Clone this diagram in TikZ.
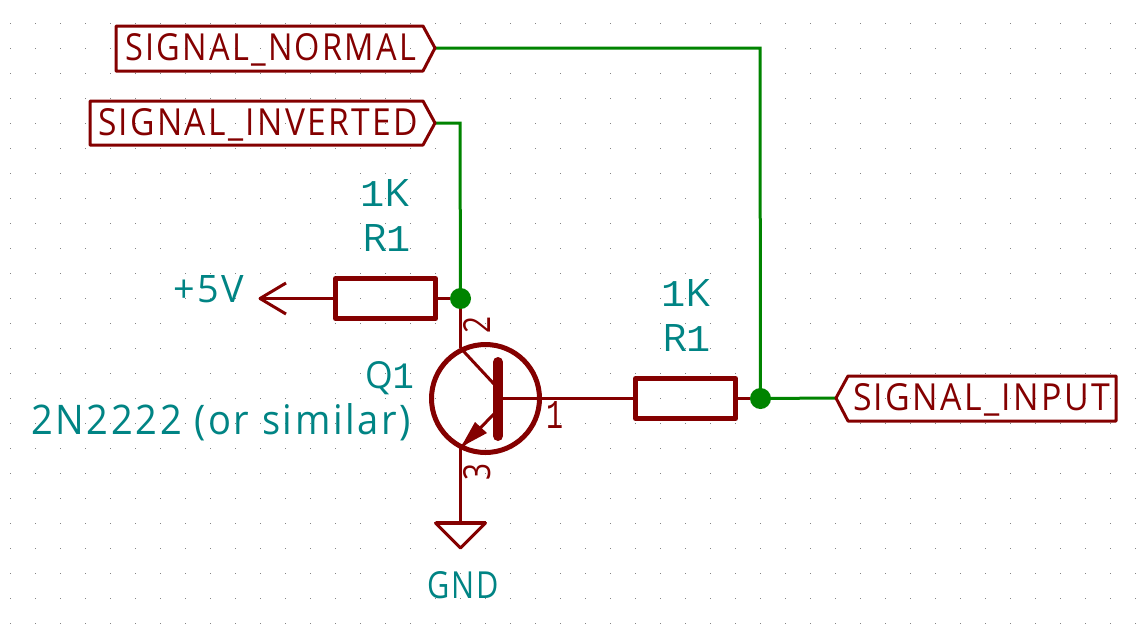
\documentclass[tikz,border=0pt]{standalone}
\usepackage{fontspec}
\usepackage{graphicx}
\setmainfont{Open Sans}[LetterSpace=7]
\newfontfamily\onefont{Liberation Mono}
\newcommand{\one}{{\onefont 1}}
\definecolor{pinred}{RGB}{132,0,0}
\definecolor{wiregreen}{RGB}{0,132,0}
\definecolor{fieldteal}{RGB}{0,132,132}
\definecolor{griddot}{RGB}{132,132,132}
\newcommand{\fitbox}[3]{\resizebox{#1pt}{#2pt}{#3}}
\tikzset{
  x=1pt,y=-1pt,
  wire/.style={draw=wiregreen,line width=3pt,line join=miter},
  pin/.style={draw=pinred,line width=3pt},
  outline/.style={draw=pinred,line width=3pt,line join=round},
  body/.style={draw=pinred,line width=5pt,line join=round,fill=none},
  resistor/.style={draw=pinred,line width=5pt,rectangle,minimum width=100pt,minimum height=40pt,inner sep=0pt,line join=round},
  junction/.style={circle,fill=wiregreen,inner sep=0pt,minimum size=21pt},
  labeltext/.style={anchor=base west,inner sep=0pt,outer sep=0pt,text=pinred},
  fieldtext/.style={anchor=base west,inner sep=0pt,outer sep=0pt,text=fieldteal},
}
\begin{document}
\begin{tikzpicture}
\useasboundingbox (0,0) rectangle (1136,625);
\fill[white] (0,0) rectangle (1136,625);
% grid
\foreach \i in {0,...,45}{\foreach \j in {0,...,24}{
  \fill[griddot] ({10+25*\i},{23+25*\j}) rectangle ++(1,1);}}
% fixed points
\coordinate (normalTip) at (435,48);
\coordinate (invertedTip) at (435,123);
\coordinate (inputTip) at (836,398);
\coordinate (normalCorner) at (760,48);
\coordinate (invertedCorner) at (460,123);
\node[resistor] (R1) at (385.5,298.5) {};
\node[resistor] (R2) at (685.5,398.5) {};
\node[junction] (J1) at (460.5,298.5) {};
\node[junction] (J2) at (760.5,398.5) {};
\coordinate (supplyTip) at (260,298.5);
\coordinate (collector) at (460.5,348);
\coordinate (emitter) at (460.5,448);
\coordinate (gndTop) at (460.5,523);
\coordinate (barBase) at (498,398.5);
% wires
\draw[wire] (normalTip) -- (normalCorner) -- (J2.center);
\draw[wire] (invertedTip) -- (invertedCorner) -- (J1.center);
\draw[wire] (J2.center) -- (inputTip);
% pins
\draw[pin] (R1.west) -- (supplyTip);
\draw[pin] (R1.east) -- (J1.west);
\draw[pin] (J1.south) -- (collector);
\draw[pin] (barBase) -- (R2.west);
\draw[pin] (R2.east) -- (J2.west);
\draw[pin] (emitter) -- (gndTop);
% power arrow
\draw[outline] (286,283) -- (supplyTip) -- (286,314);
% ground
\draw[outline] (gndTop) ++(-25,0) -- ++(50,0) -- (460.5,548) -- cycle;
\draw[pinred,line width=4.5pt] (435.5,523) -- (485.5,523);
% transistor
\draw[body] (485.5,398.5) circle[radius=54];
\draw[pinred,line width=10pt,line cap=round] (498,362) -- (498,436);
\draw[pin] (collector) -- (494,384);
\draw[pin] (494,414) -- (emitter);
\fill[pinred] (461,447) -- (475,422) -- (487,433) -- cycle;
% global labels
\draw[outline] (normalTip) -- (423,71) -- (116,71) -- (116,26) -- (423,26) -- cycle;
\draw[outline] (invertedTip) -- (423,145) -- (90,145) -- (90,101) -- (423,101) -- cycle;
\draw[outline] (inputTip) -- (848,421) -- (1116,421) -- (1116,376) -- (848,376) -- cycle;
\node[labeltext] (tNormal) at (125,60) {\fitbox{291}{27}{SIGNAL\_NORMAL}};
\node[labeltext] (tInverted) at (98,135) {\fitbox{320}{27}{SIGNAL\_INVERTED}};
\node[labeltext] (tInput) at (853,410) {\fitbox{257}{27}{SIGNAL\_INPUT}};
% field text
\node[fieldtext] (vR1) at (360,206) {\fitbox{49}{27}{\one K}};
\node[fieldtext] (nR1) at (362,251) {\fitbox{49}{27}{R\one}};
\node[fieldtext] (vR2) at (661,306) {\fitbox{49}{27}{\one K}};
\node[fieldtext] (nR2) at (662,351) {\fitbox{49}{27}{R\one}};
\node[fieldtext] (supply) at (173,302) {\fitbox{71}{27}{+5V}};
\node[fieldtext] (nQ1) at (365,388) {\fitbox{49}{27}{Q\one}};
\node[fieldtext] (vQ1) at (31,434) {\fitbox{380}{31}{2N2222 (or similar)}};
\node[fieldtext] (gnd) at (427,598) {\fitbox{72}{27}{GND}};
% pin numbers
\node[anchor=center,inner sep=0pt,text=pinred,rotate=90] (p2) at (477,324.5) {\fitbox{17}{27}{2}};
\node[anchor=center,inner sep=0pt,text=pinred,rotate=90] (p3) at (477,472) {\fitbox{17}{27}{3}};
\node[anchor=center,inner sep=0pt,text=pinred] (p1) at (554.5,415) {\fitbox{17}{27}{\one}};
\end{tikzpicture}
\end{document}
